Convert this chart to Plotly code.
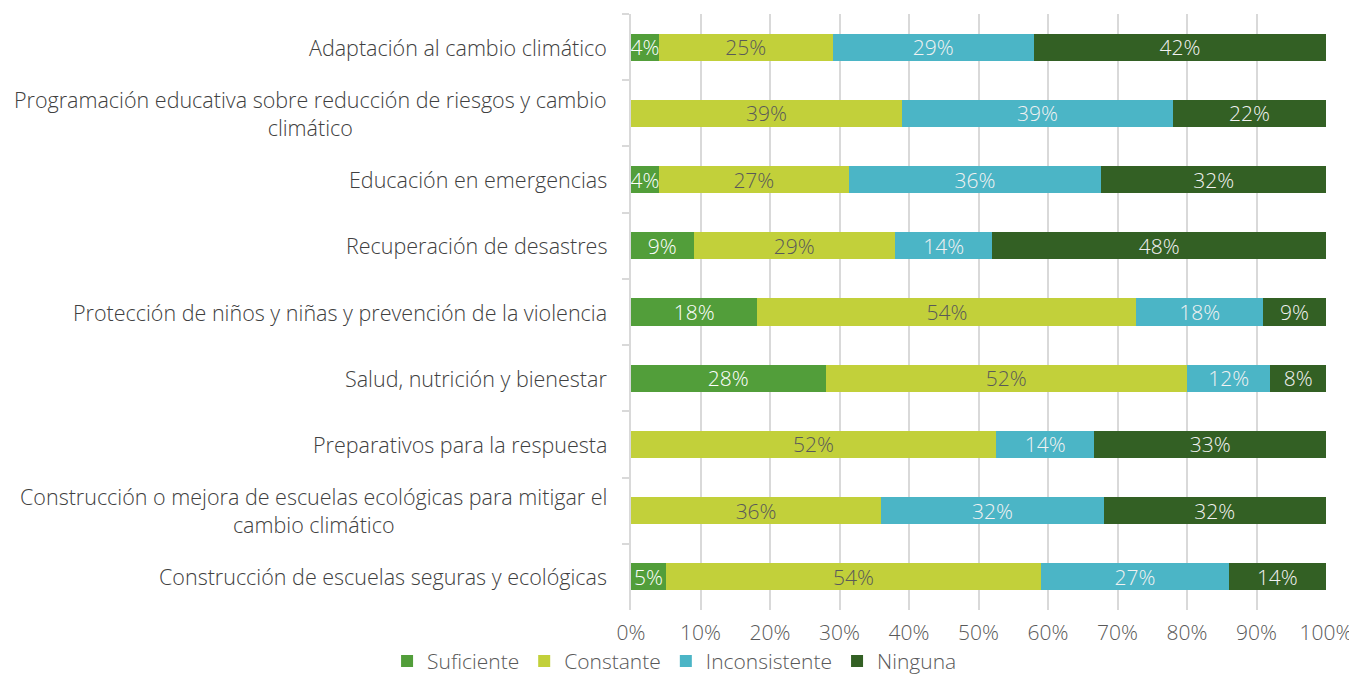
import plotly.graph_objects as go

categories = [
    "Adaptación al cambio climático",
    "Programación educativa sobre reducción de riesgos y cambio<br>climático",
    "Educación en emergencias",
    "Recuperación de desastres",
    "Protección de niños y niñas y prevención de la violencia",
    "Salud, nutrición y bienestar",
    "Preparativos para la respuesta",
    "Construcción o mejora de escuelas ecológicas para mitigar el<br>cambio climático",
    "Construcción de escuelas seguras y ecológicas",
]
suficiente = [4, 0, 4, 9, 18, 28, 0, 0, 5]
constante = [25, 39, 27, 29, 54, 52, 52, 36, 54]
inconsistente = [29, 39, 36, 14, 18, 12, 14, 32, 27]
ninguna = [42, 22, 32, 48, 9, 8, 33, 32, 14]
tick_vals = [0, 10, 20, 30, 40, 50, 60, 70, 80, 90, 100]

FONT = "Source Sans Pro, Open Sans, Lato, sans-serif"

series = [
    ("Suficiente", suficiente, "#529E3A", "#FFFFFF"),
    ("Constante", constante, "#C2D03A", "#595959"),
    ("Inconsistente", inconsistente, "#4BB5C6", "#F2F2F2"),
    ("Ninguna", ninguna, "#336024", "#F2F2F2"),
]

fig = go.Figure()
for name, vals, color, tcolor in series:
    fig.add_trace(go.Bar(
        name=name, y=categories, x=vals, orientation="h",
        marker=dict(color=color, line=dict(width=0)),
        text=[f"{v}%" if v > 0 else "" for v in vals],
        texttemplate="%{text}",
        textposition="inside", insidetextanchor="middle",
        textfont=dict(color=tcolor, size=21, family=FONT, weight=300),
        hoverinfo="skip",
    ))

for c in categories:
    fig.add_annotation(
        x=0, xref="paper", y=c, yref="y", text=c, showarrow=False,
        xanchor="right", align="center", xshift=-22,
        font=dict(size=21.5, color="#404040", family=FONT, weight=300),
    )

fig.update_layout(
    width=1349, height=668,
    barmode="stack", barnorm="percent", bargap=0.59,
    margin=dict(l=623, r=31, t=6, b=66, autoexpand=False),
    plot_bgcolor="white", paper_bgcolor="white",
    uniformtext=dict(minsize=21, mode="show"),
    font=dict(family=FONT, color="#595959"),
    legend=dict(
        orientation="h", xref="container", yref="container",
        x=0.281, xanchor="left", y=0.022, yanchor="middle",
        font=dict(size=21, color="#595959", family=FONT, weight=300),
        itemwidth=30, traceorder="normal", tracegroupgap=0,
    ),
    xaxis=dict(
        range=[0, 100], tickvals=tick_vals,
        ticktext=[f"{v}%" for v in tick_vals],
        showgrid=True, gridcolor="#D9D9D9", gridwidth=2,
        zeroline=False, showline=False, ticks="",
        ticklabelstandoff=8, automargin=False,
        tickfont=dict(size=21, color="#595959", family=FONT, weight=300),
        fixedrange=True,
    ),
    yaxis=dict(
        autorange="reversed", showticklabels=False, automargin=False,
        showline=True, linecolor="#D9D9D9", linewidth=2,
        ticks="outside", tickson="boundaries", ticklen=7,
        tickcolor="#D9D9D9", tickwidth=2,
        showgrid=False, fixedrange=True,
    ),
)

fig.write_html("out.html")
